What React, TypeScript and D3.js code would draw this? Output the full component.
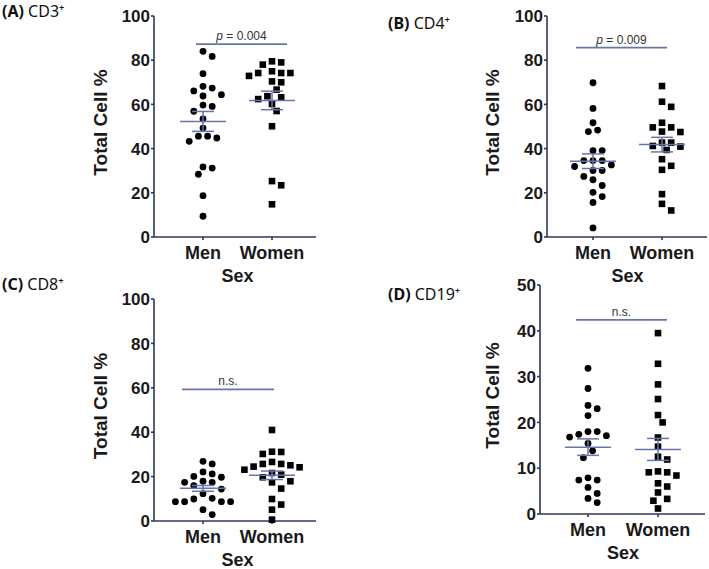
import React from "react";
import * as d3 from "d3";

// ---------- data ----------
const groups = ["Men", "Women"];

const cd3Men = [84.0, 81.7, 73.9, 67.4, 68.2, 64.4, 66.1, 63.8, 59.7, 59.1, 56.9, 53.4, 49.3, 45.6, 45.6, 44.8, 43.3, 31.7, 31.2, 28.4, 18.7, 9.4];
const cd3Women = [78.0, 79.5, 79.0, 75.0, 74.2, 74.2, 74.2, 72.9, 70.4, 70.0, 66.7, 63.7, 63.2, 62.4, 60.2, 57.0, 50.1, 25.3, 23.4, 14.8];

const cd4Men = [69.8, 58.2, 51.7, 48.4, 47.7, 39.1, 39.1, 34.6, 34.6, 34.6, 32.6, 31.9, 30.1, 30.1, 27.4, 25.9, 23.3, 18.3, 20.2, 15.6, 4.1];
const cd4Women = [68.3, 58.9, 61.2, 49.6, 51.7, 47.5, 49.6, 47.7, 42.7, 40.9, 41.2, 42.7, 39.4, 35.2, 32.2, 30.4, 19.4, 15.0, 12.0];

const cd8Men = [26.9, 25.7, 22.1, 21.2, 20.1, 19.7, 17.9, 17.4, 17.4, 15.9, 14.4, 12.3, 8.7, 8.7, 8.7, 8.7, 10.2, 9.9, 5.1, 2.9];
const cd8Women = [41.0, 31.2, 30.2, 31.1, 26.6, 25.1, 25.7, 25.7, 24.2, 24.5, 23.1, 20.9, 21.6, 19.7, 17.9, 17.4, 14.6, 9.9, 7.4, 5.1, 0.6];

const cd19Men = [31.8, 27.4, 23.7, 23.0, 21.5, 17.4, 18.0, 18.0, 17.1, 16.8, 15.4, 13.8, 12.3, 7.4, 7.4, 7.9, 5.8, 4.5, 3.4, 2.5];
const cd19Women = [39.5, 32.8, 28.3, 25.1, 21.6, 20.0, 16.7, 14.7, 12.5, 11.9, 9.3, 9.1, 9.1, 8.4, 6.0, 6.7, 4.7, 2.9, 3.3, 1.2];

const meansMen = [52.3, 34.3, 14.7, 14.6];
const meansWomen = [61.8, 41.8, 20.6, 14.1];
const semMen = [4.5, 3.3, 1.3, 1.8];
const semWomen = [4.2, 3.3, 1.9, 2.4];

const sigLevels = [87.3, 85.7, 59.3, 42.4];
const sigLabels = ["p = 0.004", "p = 0.009", "n.s.", "n.s."];
const panelLetters = ["(A)", "(B)", "(C)", "(D)"];
const panelMarkers = ["CD3⁺", "CD4⁺", "CD8⁺", "CD19⁺"];
const yMaxes = [100, 100, 100, 50];
const yTickSets = [
  [0, 20, 40, 60, 80, 100],
  [0, 20, 40, 60, 80, 100],
  [0, 20, 40, 60, 80, 100],
  [0, 10, 20, 30, 40, 50],
];
const menSeries = [cd3Men, cd4Men, cd8Men, cd19Men];
const womenSeries = [cd3Women, cd4Women, cd8Women, cd19Women];

// ---------- layout ----------
const layouts = [
  { axisX: 154, yTop: 16, y0: 237, xEnd: 316, menX: 203, womenX: 272, titleX: 2, titleY: 17, ylabX: 100, barX0: 196, barX1: 287 },
  { axisX: 547, yTop: 16, y0: 237, xEnd: 707, menX: 593, womenX: 662, titleX: 388, titleY: 29, ylabX: 492, barX0: 576, barX1: 667 },
  { axisX: 154, yTop: 299, y0: 521, xEnd: 316, menX: 203, womenX: 272, titleX: 2, titleY: 290, ylabX: 100, barX0: 182, barX1: 274 },
  { axisX: 540, yTop: 285, y0: 514, xEnd: 705, menX: 588, womenX: 658, titleX: 388, titleY: 300, ylabX: 492, barX0: 576, barX1: 667 },
];

const AXIS = "#2e3757";
const MEAN = "#6676aa";
const SANS = "'Liberation Sans', Arial, sans-serif";

function swarm(values: number[], y: (v: number) => number, cx: number) {
  const step = 4.6;
  const minD = 8.4;
  const items = values.map((v, i) => ({ v, i, y: y(v), x: cx }));
  const order = [...items].sort((a, b) => b.v - a.v);
  const placed: { x: number; y: number }[] = [];
  for (const it of order) {
    for (let k = 0; k < 40; k++) {
      const off = k === 0 ? 0 : (k % 2 === 1 ? 1 : -1) * Math.ceil(k / 2) * step;
      const x = cx + off;
      const ok = placed.every((p) => Math.hypot(p.x - x, p.y - it.y) >= minD);
      if (ok) {
        it.x = x;
        placed.push({ x, y: it.y });
        break;
      }
    }
  }
  return items;
}

function Panel({ idx }: { idx: number }) {
  const L = layouts[idx];
  const y = d3.scaleLinear().domain([0, yMaxes[idx]]).range([L.y0, L.yTop]);
  const x = d3.scalePoint<string>().domain(groups).range([L.menX, L.womenX]);
  const menPts = swarm(menSeries[idx], y, x("Men")!);
  const womenPts = swarm(womenSeries[idx], y, x("Women")!);
  const stats = [
    { cx: x("Men")!, m: meansMen[idx], s: semMen[idx] },
    { cx: x("Women")!, m: meansWomen[idx], s: semWomen[idx] },
  ];
  const midX = (x("Men")! + x("Women")!) / 2;
  const sigY = y(sigLevels[idx]);
  const label = sigLabels[idx];
  return (
    <g>
      <text x={L.titleX} y={L.titleY} fontFamily="'Noto Sans', sans-serif" fontSize={16} fill="#111">
        <tspan fontWeight="bold">{panelLetters[idx]}</tspan>
        <tspan> {panelMarkers[idx]}</tspan>
      </text>
      {/* y axis */}
      <line x1={L.axisX} x2={L.axisX} y1={L.yTop} y2={L.y0} stroke={AXIS} strokeWidth={1.6} />
      {yTickSets[idx].map((t) => (
        <g key={t}>
          <line x1={L.axisX - 3} x2={L.axisX} y1={y(t)} y2={y(t)} stroke={AXIS} strokeWidth={1.6} />
          <text x={L.axisX - 4} y={y(t)} dy="0.36em" textAnchor="end" fontFamily={SANS} fontWeight="bold" fontSize={17} fill="#1a1a1a">
            {t}
          </text>
        </g>
      ))}
      {/* x axis */}
      <line x1={L.axisX} x2={L.xEnd} y1={L.y0} y2={L.y0} stroke={AXIS} strokeWidth={1.6} />
      {groups.map((g) => (
        <g key={g}>
          <line x1={x(g)!} x2={x(g)!} y1={L.y0} y2={L.y0 + 3} stroke={AXIS} strokeWidth={1.6} />
          <text x={x(g)!} y={L.y0 + 22} textAnchor="middle" fontFamily={SANS} fontWeight="bold" fontSize={18} fill="#1a1a1a">
            {g}
          </text>
        </g>
      ))}
      <text x={midX} y={L.y0 + 45} textAnchor="middle" fontFamily={SANS} fontWeight="bold" fontSize={18} fill="#1a1a1a">
        Sex
      </text>
      <text
        transform={`translate(${L.ylabX},${(L.y0 + L.yTop) / 2 - 4}) rotate(-90)`}
        dy="0.36em"
        textAnchor="middle"
        fontFamily={SANS}
        fontWeight="bold"
        fontSize={19}
        fill="#1a1a1a"
      >
        Total Cell %
      </text>
      {/* significance bar */}
      <line x1={L.barX0} x2={L.barX1} y1={sigY} y2={sigY} stroke={MEAN} strokeWidth={1.8} />
      <text x={(L.barX0 + L.barX1) / 2} y={sigY - 4} textAnchor="middle" fontFamily={SANS} fontSize={12} fill="#333">
        {label.startsWith("p") ? (
          <>
            <tspan fontStyle="italic">p</tspan>
            <tspan>{label.slice(1)}</tspan>
          </>
        ) : (
          label
        )}
      </text>
      {/* points */}
      {menPts.map((p) => (
        <circle key={"m" + p.i} cx={p.x} cy={p.y} r={3.4} fill="#000" />
      ))}
      {womenPts.map((p) => (
        <rect key={"w" + p.i} x={p.x - 3.3} y={p.y - 3.3} width={6.6} height={6.6} fill="#000" />
      ))}
      {/* mean and SEM */}
      {stats.map((s, i) => (
        <g key={i} stroke={MEAN} strokeWidth={1.5}>
          <line x1={s.cx - 23} x2={s.cx + 23} y1={y(s.m)} y2={y(s.m)} />
          <line x1={s.cx - 11} x2={s.cx + 11} y1={y(s.m + s.s)} y2={y(s.m + s.s)} />
          <line x1={s.cx - 11} x2={s.cx + 11} y1={y(s.m - s.s)} y2={y(s.m - s.s)} />
          <line x1={s.cx} x2={s.cx} y1={y(s.m + s.s)} y2={y(s.m - s.s)} />
        </g>
      ))}
    </g>
  );
}

export default function App() {
  return (
    <svg width={709} height={569} style={{ position: "absolute", left: 0, top: 0, background: "#fff" }}>
      <rect width={709} height={569} fill="#fff" />
      {[0, 1, 2, 3].map((i) => (
        <Panel key={i} idx={i} />
      ))}
    </svg>
  );
}
